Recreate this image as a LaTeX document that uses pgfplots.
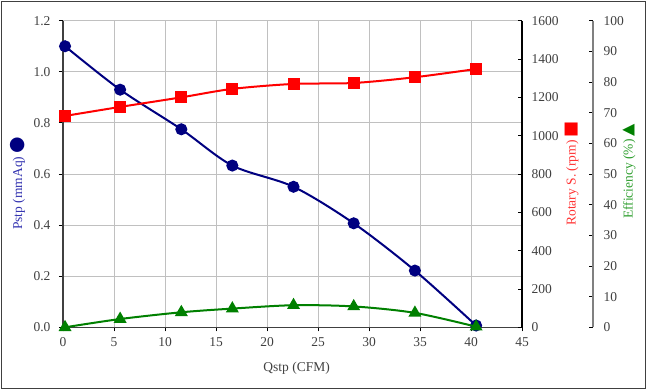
\documentclass[border=0pt]{standalone}
\usepackage{fontspec}
\setmainfont{Liberation Serif}
\newfontfamily\symfont{DejaVu Sans}
\usepackage{pgfplots}
\usepackage{pgfplotstable}
\pgfplotsset{compat=1.18}
\definecolor{pblue}{HTML}{000080}
\definecolor{pred}{HTML}{FF0000}
\definecolor{pgreen}{HTML}{008000}
\definecolor{lblue}{HTML}{3333B0}
\definecolor{lred}{HTML}{FF3333}
\definecolor{lgreen}{HTML}{2E9E2E}
\definecolor{tickgray}{HTML}{404040}
\definecolor{gridgray}{HTML}{C0C0C0}
\definecolor{framegray}{HTML}{404040}

\pgfplotstableread{
x    p      r     e
0.2  1.100  1103  0.0
5.6  0.930  1150  2.7
11.6 0.775  1200  4.9
16.6 0.633  1244  6.1
22.6 0.550  1270  7.2
28.5 0.407  1275  6.8
34.5 0.222  1305  4.7
40.5 0.007  1348  0.2
}\fandata

\newcommand{\lblfont}{\fontsize{13.5}{16}\selectfont}

\pgfplotsset{
  base/.style={
    scale only axis, height=306.6pt,
    at={(63pt,62.7pt)}, anchor=south west,
    clip=false,
    /pgf/number format/assume math mode=true,
    tick label style={font=\lblfont, text=tickgray},
    major tick length=4pt,
    tick style={black, line width=0.8pt},
  }
}

\begin{document}
\begin{tikzpicture}
\useasboundingbox (0,0) rectangle (647pt,390pt);
\draw[framegray, line width=1.3pt] (1.2pt,1.2pt) rectangle (645.8pt,388.8pt);

% main axis: Pstp
\begin{axis}[base, width=459pt,
  xmin=0, xmax=45, ymin=0, ymax=1.2,
  xtick={0,5,10,15,20,25,30,35,40,45},
  ytick={0,0.2,0.4,0.6,0.8,1.0,1.2},
  axis x line*=bottom, axis y line*=left,
  axis line style={tickgray, line width=1.2pt},
  tick align=outside,
  grid=major, grid style={gridgray, line width=0.8pt},
  yticklabel style={/pgf/number format/.cd, fixed, fixed zerofill, precision=1, /tikz/.cd, xshift=-5pt},
  xticklabel style={yshift=-2.5pt},
  xlabel={Qstp (CFM)},
  every axis x label/.style={at={(axis description cs:0.509,-0.134)}, anchor=center, font=\lblfont, text=tickgray},
  ylabel={\textcolor{lblue}{Pstp (mmAq)}\hspace{3pt}{\symfont\fontsize{19}{19}\selectfont\textcolor{pblue}{●}}},
  every axis y label/.style={at={(axis description cs:-0.099,0.469)}, rotate=90, anchor=center, font=\lblfont},
]
\addplot[pblue, line width=2pt, smooth, mark=*, mark size=5pt, mark options={fill=pblue, draw=pblue}] table[x=x, y=p] {\fandata};
\end{axis}

% rotary speed axis
\begin{axis}[base, width=459pt,
  xmin=0, xmax=45, ymin=0, ymax=1600,
  ytick={0,200,400,600,800,1000,1200,1400,1600},
  axis y line*=right, hide x axis,
  tick align=inside,
  y axis line style={black, line width=1.1pt},
  yticklabel style={/pgf/number format/1000 sep={}, xshift=6pt},
  ylabel={\textcolor{lred}{Rotary S. (rpm)}\hspace{3pt}{\symfont\fontsize{17}{17}\selectfont\textcolor{pred}{■}}},
  every axis y label/.style={at={(axis description cs:1.108,0.5016)}, rotate=90, anchor=center, font=\lblfont},
]
\addplot[pred, line width=2pt, smooth, mark=square*, mark size=5pt, mark options={fill=pred, draw=pred}] table[x=x, y=r] {\fandata};
\end{axis}

% efficiency axis
\begin{axis}[base, width=530pt,
  xmin=0, xmax=51.96, ymin=0, ymax=100,
  ytick={0,10,20,30,40,50,60,70,80,90,100},
  axis y line*=right, hide x axis,
  tick align=inside,
  y axis line style={gray, line width=1.6pt},
  yticklabel style={xshift=7pt},
  ylabel={\textcolor{lgreen}{Efficiency (\%)}\hspace{3pt}{\symfont\fontsize{16}{16}\selectfont\textcolor{pgreen}{▲}}},
  every axis y label/.style={at={(axis description cs:1.068,0.508)}, rotate=90, anchor=center, font=\lblfont},
]
\addplot[pgreen, line width=2pt, smooth, mark=triangle*, mark size=5.5pt, mark options={fill=pgreen, draw=pgreen}] table[x=x, y=e] {\fandata};
\end{axis}
\end{tikzpicture}
\end{document}
